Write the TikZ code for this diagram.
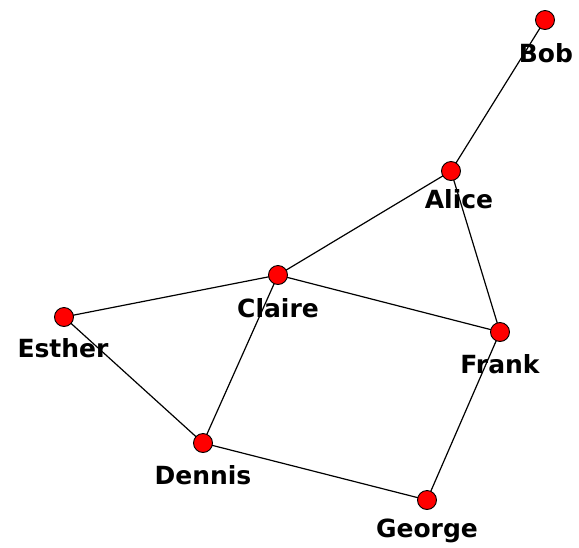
\documentclass[tikz,border=0pt]{standalone}
\usepackage{fontspec}
\setmainfont{DejaVu Sans}
\begin{document}
\begin{tikzpicture}[x=1pt,y=-1pt,
  vert/.style={circle,draw=black,fill=red,line width=0.9pt,minimum size=19pt,inner sep=0pt},
  lbl/.style={anchor=base,inner sep=0pt,font=\bfseries\fontsize{25}{30}\selectfont},
  edge/.style={draw=black,line width=1.2pt}]
\useasboundingbox (0,0) rectangle (579,547);
\coordinate (pBob) at (545,20);
\coordinate (pAlice) at (451,171);
\coordinate (pClaire) at (278,275);
\coordinate (pEsther) at (64,317);
\coordinate (pFrank) at (500,332);
\coordinate (pDennis) at (203,443);
\coordinate (pGeorge) at (427,500);
\draw[edge] (pBob) -- (pAlice);
\draw[edge] (pAlice) -- (pClaire);
\draw[edge] (pAlice) -- (pFrank);
\draw[edge] (pClaire) -- (pEsther);
\draw[edge] (pClaire) -- (pFrank);
\draw[edge] (pClaire) -- (pDennis);
\draw[edge] (pEsther) -- (pDennis);
\draw[edge] (pDennis) -- (pGeorge);
\draw[edge] (pGeorge) -- (pFrank);
\node[vert] (Bob) at (pBob) {};
\node[vert] (Alice) at (pAlice) {};
\node[vert] (Claire) at (pClaire) {};
\node[vert] (Esther) at (pEsther) {};
\node[vert] (Frank) at (pFrank) {};
\node[vert] (Dennis) at (pDennis) {};
\node[vert] (George) at (pGeorge) {};
\node[lbl] (lBob) at (546,62) {Bob};
\node[lbl] (lAlice) at (459,208) {Alice};
\node[lbl] (lClaire) at (278,317) {Claire};
\node[lbl] (lEsther) at (63,357) {Esther};
\node[lbl] (lFrank) at (500,373) {Frank};
\node[lbl] (lDennis) at (203,484) {Dennis};
\node[lbl] (lGeorge) at (427,537) {George};
\end{tikzpicture}
\end{document}
